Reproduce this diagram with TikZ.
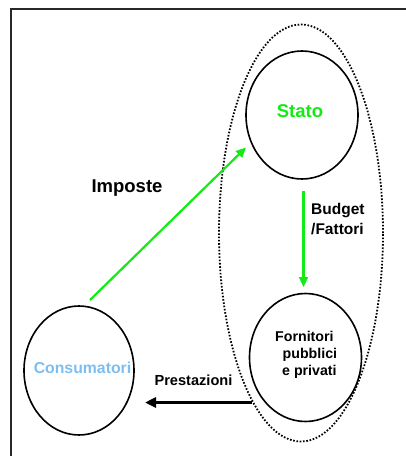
\documentclass[tikz,border=0pt]{standalone}
\usepackage{fontspec}
\setmainfont{Liberation Sans}
\usetikzlibrary{shapes.geometric,arrows.meta}
\definecolor{vivgreen}{RGB}{20,235,20}
\definecolor{consblue}{RGB}{125,190,240}
\definecolor{framegray}{RGB}{40,40,40}
\tikzset{
  bubble/.style={draw=black,line width=1.6pt,ellipse,inner sep=0pt},
  groupring/.style={draw=black,line width=1.8pt,dash pattern=on 1.6pt off 1.7pt,ellipse,inner sep=0pt},
  lbl/.style={font=\bfseries,inner sep=0pt},
  greenarrow/.style={draw=vivgreen,line width=2.2pt,-{Triangle[length=10pt,width=9pt]}},
  blackarrow/.style={draw=black,line width=3pt,-{Triangle[length=11pt,width=10pt]}}
}
\begin{document}
\begin{tikzpicture}[x=1pt,y=-1pt]
\useasboundingbox (0,0) rectangle (406,456);
% frame
\coordinate (fbl) at (11,457);
\coordinate (ftl) at (11,9);
\coordinate (ftr) at (407,9);
\draw[framegray,line width=1.2pt] (fbl) -- (ftl) -- (ftr);
% ellipses
\node[groupring,minimum width=164pt,minimum height=417pt] (grp) at (301,233) {};
\node[bubble,minimum width=112pt,minimum height=128pt] (stato) at (302,115) {};
\node[bubble,minimum width=112pt,minimum height=128pt] (forn) at (305.5,357.5) {};
\node[bubble,minimum width=110pt,minimum height=129pt] (cons) at (79,370.5) {};
% texts
\node[lbl,text=vivgreen,font=\bfseries\fontsize{18.5}{20}\selectfont] (tstato) at (300,111) {Stato};
\node[lbl,text=consblue,font=\bfseries\fontsize{15.8}{18}\selectfont] (tcons) at (82.5,368) {Consumatori};
\node[lbl,font=\bfseries\fontsize{18.5}{20}\selectfont] (timp) at (127,188) {Imposte};
\node[lbl,font=\bfseries\fontsize{15.5}{20}\selectfont,align=left,anchor=north west] (tbud) at (311,203) {Budget\\/Fattori};
\node[lbl,font=\bfseries\fontsize{14.2}{17}\selectfont,align=left,anchor=north west] (tforn) at (275,331) {Fornitori\\\hspace*{7.5pt}pubblici\\\hspace*{7pt}e privati};
\node[lbl,font=\bfseries\fontsize{14.6}{17}\selectfont] (tprest) at (193.5,380.5) {Prestazioni};
% arrows
\coordinate (impS) at (90,300);
\coordinate (impE) at (246,147.5);
\draw[greenarrow] (impS) -- (impE);
\coordinate (budS) at (303.5,191);
\coordinate (budE) at (303.5,287);
\draw[greenarrow] (budS) -- (budE);
\coordinate (preS) at (252,402.5);
\coordinate (preE) at (145,402.5);
\draw[blackarrow] (preS) -- (preE);
\end{tikzpicture}
\end{document}
